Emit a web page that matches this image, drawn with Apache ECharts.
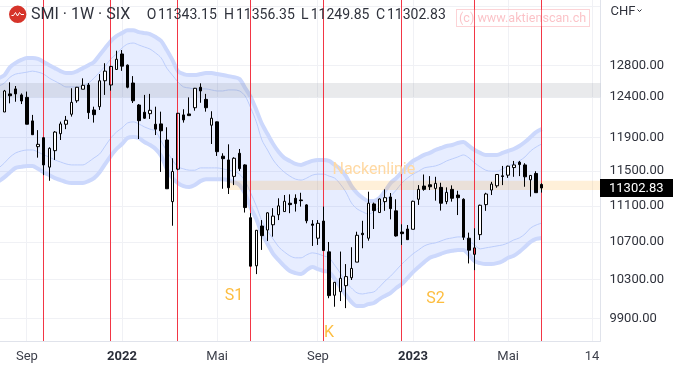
<!DOCTYPE html>
<html>
<head>
<meta charset="utf-8">
<script src="https://cdn.jsdelivr.net/npm/echarts@6/dist/echarts.min.js"></script>
<style>html,body{margin:0;padding:0;background:#fff}#c{width:673px;height:369px}</style>
</head>
<body>
<div id="c"></div>
<script>
const firstWeek = '2021-08-02';
const weekCount = 108;
const opens = [12211,12438,12501,12425,12394,12101,11788,11896,11545,11740,11944,12060,12183,12351,12497,12551,12236,12277,12605,12551,12751,12953,12807,12576,12298,12208,12190,12060,12064,11868,11147,11521,12175,12187,12264,12522,12369,12048,12089,11674,11630,11437,11709,11571,10966,10443,10874,10830,10888,10999,11035,11129,11185,11166,11110,10896,10740,10929,10592,10135,10172,10234,10317,10482,10794,10740,11121,11024,11147,11200,11043,10808,10841,10838,11174,11325,11340,11298,11310,11147,11287,11222,11174,10740,10565,10779,11113,11279,11328,11443,11451,11540,11603,11571,11397,11471,11343.15];
const closes = [12475,12414,12438,12348,12060,11932,11816,11571,11768,11964,12064,12109,12331,12522,12547,12203,12178,12605,12729,12790,12884,12794,12522,12351,12104,12134,12232,12000,11980,11294,11494,12195,12113,12166,12509,12475,12264,12134,11728,11645,11306,11650,11528,11080,10439,10827,10768,11021,10984,11099,11151,11113,11125,11158,10932,10882,10904,10606,10131,10269,10311,10329,10415,10772,10779,11129,11046,11177,11192,11068,10765,10790,10724,11151,11287,11287,11317,11356,11129,11253,11185,11192,10751,10610,10635,11106,11234,11348,11459,11436,11556,11571,11575,11432,11448,11249,11302.83];
const lows = [12211,12319,12339,12310,12060,11932,11657,11451,11386,11630,11868,12000,12154,12326,12497,12125,12080,12236,12425,12479,12751,12733,12509,12323,11880,12125,12125,11928,11489,11294,10877,11509,12080,12166,12227,12326,12215,11820,11677,11294,11234,11336,11501,11024,10439,10355,10613,10710,10757,10940,11035,11017,11035,11091,10904,10656,10667,10606,10104,10017,10075,10003,10293,10482,10631,10713,10841,11024,11043,10948,10757,10667,10724,10838,11110,11271,11279,11158,11046,11118,11147,10996,10721,10468,10397,10721,11043,11222,11306,11336,11420,11432,11440,11317,11204,11249,11249.85];
const highs = [12488,12585,12538,12444,12467,12175,11988,11896,11780,11976,12092,12162,12509,12526,12636,12576,12277,12691,12832,12798,12996,13005,12816,12665,12310,12425,12438,12277,12215,12023,11650,12199,12245,12394,12513,12572,12438,12220,12092,11709,11816,11662,11760,11579,11017,10830,10940,11028,11073,11185,11222,11230,11230,11248,11118,10940,10940,11091,10699,10272,10595,10461,10642,10811,10932,11260,11136,11183,11287,11245,11174,10893,10885,11158,11336,11459,11440,11432,11363,11310,11333,11271,11185,10801,10849,11113,11248,11374,11463,11559,11563,11618,11618,11591,11451,11497,11356.35];
const upperOuter = [12639,12678,12781,12836,12875,12901,12901,12888,12849,12807,12768,12729,12704,12704,12729,12768,12807,12849,12940,13032,13125,13191,13231,13271,13271,13244,13231,13218,13178,13125,13005,12875,12729,12691,12678,12678,12691,12704,12704,12691,12678,12665,12652,12627,12513,12398,12236,12064,11940,11820,11724,11654,11618,11583,11571,11595,11618,11630,11630,11618,11571,11525,11440,11325,11245,11189,11155,11155,11189,11268,11360,11417,11486,11559,11618,11654,11689,11713,11748,11772,11796,11808,11832,11844,11796,11748,11713,11689,11689,11689,11713,11736,11760,11796,11844,11904,11964,12000];
const upperInner = [12538,12576,12652,12691,12704,12716,12729,12716,12691,12639,12601,12563,12526,12526,12526,12538,12576,12639,12716,12794,12888,12953,13032,13085,13098,13072,13045,13018,12966,12901,12768,12678,12589,12526,12513,12501,12501,12501,12488,12475,12475,12488,12488,12475,12411,12261,12089,11868,11748,11630,11548,11486,11440,11405,11394,11417,11451,11463,11463,11440,11417,11348,11256,11132,11065,11032,11007,11032,11088,11166,11211,11279,11360,11417,11463,11497,11536,11548,11559,11583,11618,11642,11665,11689,11654,11595,11548,11509,11497,11497,11525,11559,11583,11618,11665,11736,11784,11820];
const lowerInner = [11536,11595,11665,11713,11736,11748,11748,11724,11689,11665,11630,11606,11583,11571,11571,11571,11606,11654,11701,11796,11892,11964,12015,12076,12089,12064,12027,12000,11976,11856,11736,11630,11548,11525,11509,11509,11536,11536,11536,11536,11525,11509,11497,11463,11382,11245,11099,10929,10819,10732,10645,10592,10549,10528,10528,10560,10581,10571,10549,10528,10450,10366,10272,10210,10159,10148,10159,10169,10220,10282,10334,10397,10461,10517,10571,10613,10656,10678,10689,10710,10732,10743,10754,10754,10710,10667,10624,10635,10645,10656,10667,10689,10721,10743,10786,10852,10885,10907];
const lowerOuter = [11382,11428,11486,11536,11548,11559,11559,11525,11486,11451,11417,11394,11371,11360,11360,11360,11382,11417,11486,11583,11677,11760,11820,11892,11904,11892,11844,11808,11760,11677,11525,11417,11360,11325,11314,11337,11382,11405,11405,11405,11405,11394,11371,11337,11234,11076,10951,10786,10678,10571,10503,10439,10387,10366,10355,10397,10429,10408,10387,10376,10303,10220,10138,10065,10024,10024,10044,10055,10095,10128,10159,10210,10251,10314,10376,10429,10482,10528,10549,10571,10592,10603,10613,10613,10560,10492,10471,10461,10461,10471,10492,10528,10549,10592,10645,10699,10732,10743];
const priceTicks = [12800,12400,11900,11500,11100,10700,10300,9900];
const extraGridPrices = [13600];
const tickWeeks = ['2021-09-06','2022-01-03','2022-05-02','2022-09-05','2023-01-02','2023-05-01','2023-08-14'];
const tickLabels = ['Sep','2022','Mai','Sep','2023','Mai','14'];
const redLineWeeks = ['2021-09-27','2021-12-20','2022-03-14','2022-06-13','2022-09-12','2022-12-19','2023-03-20','2023-06-12'];
const zoneStarts = ['2021-08-02','2022-05-16'];
const zoneTops = [12577,11387];
const zoneBottoms = [12395,11279];
const noteTexts = ['Nackenlinie','S1','S2','K'];
const noteWeeks = ['2022-11-14','2022-05-23','2023-01-30','2022-09-19'];
const notePrices = [11506,10126,10096,9756];
const noteColors = ['#ffd9a3','#fdbd3f','#fdbd3f','#fdbd3f'];
const ohlcLetters = ['O','H','L','C'];
const ohlcValues = ['11343.15','11356.35','11249.85','11302.83'];

const weeks = [];
const d0 = new Date(firstWeek + 'T00:00:00Z');
for (let k = 0; k < weekCount; k++) {
  weeks.push(new Date(d0.getTime() + k * 7 * 86400000).toISOString().slice(0, 10));
}
const pad = ['-', '-', '-', '-'];
const candleData = [{ value: pad }].concat(opens.map((o, k) => {
  const item = { value: [o, closes[k], lows[k], highs[k]] };
  if (closes[k] > o && redLineWeeks.indexOf(weeks[k + 1]) >= 0) item.itemStyle = { color: 'rgba(255,255,255,0)' };
  return item;
}));

const FONT = 'Roboto, "Noto Sans", sans-serif';
const chart = echarts.init(document.getElementById('c'), null, { renderer: 'canvas' });
const gridM = (v) => ({ yAxis: v });
const zoneFills = ['rgba(120,123,134,0.16)', 'rgba(255,152,0,0.15)'];

function lineSeries(values, width, color, z) {
  return { type: 'line', data: values, symbol: 'none', smooth: 0.3, silent: true, z: z,
    lineStyle: { width: width, color: color, cap: 'butt', join: 'round' }, animation: false };
}
function verticals(weekList, color, z) {
  const rows = weekList.map((w) => [weeks.indexOf(w), priceTicks[0]]);
  return {
    type: 'custom', data: rows, silent: true, z: z, encode: { x: 0, y: 1 },
    renderItem: (params, api) => {
      const sys = params.coordSys;
      const px = Math.floor(api.coord(rows[params.dataIndex])[0] + 0.02) + 0.5;
      return { type: 'line', shape: { x1: px, y1: sys.y, x2: px, y2: sys.y + sys.height }, style: { stroke: color, lineWidth: 1 } };
    }
  };
}

const fillData = upperOuter.map((u, k) => [k, u, lowerOuter[k]]);
const zoneData = zoneStarts.map((w, k) => [weeks.indexOf(w), zoneTops[k], zoneBottoms[k], k]);

const option = {
  animation: false,
  backgroundColor: '#fff',
  grid: { left: -3.9, top: 0, width: 604.4, height: 341, containLabel: false, outerBoundsMode: 'none' },
  xAxis: {
    type: 'category', data: weeks, boundaryGap: true,
    axisLine: { show: true, lineStyle: { color: '#e0e3eb', width: 1 } },
    axisTick: { show: false }, splitLine: { show: false },
    axisLabel: {
      margin: 9, color: '#3c3f4a', fontFamily: FONT, fontSize: 13, hideOverlap: false,
      interval: (idx, val) => tickWeeks.indexOf(val) >= 0,
      formatter: (val) => {
        const t = tickLabels[tickWeeks.indexOf(val)] || '';
        return /^\d{4}$/.test(t) ? '{b|' + t + '}' : t;
      },
      rich: { b: { fontWeight: 'bold', fontFamily: FONT, fontSize: 13, color: '#2a2e39' } }
    }
  },
  yAxis: {
    type: 'log', logBase: 10, min: 9674, max: 13684, position: 'right', scale: true,
    axisLine: { show: true, lineStyle: { color: '#e0e3eb', width: 1 } },
    axisTick: { show: false }, splitLine: { show: false }, minorTick: { show: false }, minorSplitLine: { show: false },
    axisLabel: {
      show: true, margin: 9, color: '#2f323c', fontFamily: FONT, fontSize: 13, padding: [3, 0, 0, 0],
      customValues: priceTicks, formatter: (v) => Number(v).toFixed(2)
    }
  },
  series: [
    { // horizontal grid lines
      type: 'line', data: [], silent: true, z: 0,
      markLine: {
        z: 0, silent: true, symbol: 'none', animation: false, label: { show: false },
        lineStyle: { color: '#f0f1f5', width: 1, type: 'solid' },
        data: priceTicks.concat(extraGridPrices).map(gridM)
      }
    },
    verticals(tickWeeks, '#f0f1f5', 0),
    { // band fill
      type: 'custom', data: fillData, silent: true, z: 1,
      encode: { x: 0, y: 1 },
      renderItem: (params, api) => {
        if (params.dataIndex !== 0) return null;
        const up = fillData.map((r) => api.coord([r[0], r[1]]));
        const lo = fillData.map((r) => api.coord([r[0], r[2]])).reverse();
        return { type: 'polygon', shape: { points: up.concat(lo) }, style: { fill: 'rgba(41,98,255,0.115)', stroke: null } };
      }
    },
    lineSeries(upperOuter, 4, '#ccd8fc', 2),
    lineSeries(lowerOuter, 4, '#ccd8fc', 2),
    lineSeries(upperInner, 1, '#bccdfb', 2),
    lineSeries(lowerInner, 1, '#bccdfb', 2),
    { // price zones
      type: 'custom', data: zoneData, silent: true, z: 3, encode: { x: 0, y: 1 },
      renderItem: (params, api) => {
        const sys = params.coordSys;
        const r = zoneData[params.dataIndex];
        const a = api.coord([r[0], r[1]]);
        const b = api.coord([r[0], r[2]]);
        const x0 = r[3] === 0 ? 0 : a[0];
        return { type: 'rect', shape: { x: x0, y: a[1], width: sys.x + sys.width - x0, height: b[1] - a[1] }, style: { fill: zoneFills[r[3]] } };
      }
    },
    verticals(redLineWeeks, '#f23645', 4),
    {
      type: 'candlestick', data: candleData, barWidth: 3, silent: true, z: 5,
      itemStyle: { color: '#fff', color0: '#000', borderColor: '#000', borderColor0: '#000', borderWidth: 1 }
    },
    { // annotations
      type: 'line', data: [], silent: true, z: 6,
      markPoint: {
        z: 6, silent: true, animation: false, symbol: 'circle', symbolSize: 0,
        data: noteTexts.map((t, k) => ({
          coord: [noteWeeks[k], notePrices[k]],
          label: { show: true, position: 'inside', formatter: t, fontFamily: FONT, fontSize: 16, color: noteColors[k] }
        }))
      }
    }
  ],
  graphic: [
    { type: 'circle', shape: { cx: 17.7, cy: 14.3, r: 8.7 }, style: { fill: '#d6342a' }, z: 20 },
    { type: 'polyline', shape: { points: [[11.5, 15.5], [13.5, 15.5], [15.5, 12.5], [17.5, 16], [19.5, 12.5], [21, 14.5], [24, 14.5]] }, style: { stroke: '#fff', lineWidth: 1, fill: null }, z: 21 },
    { type: 'text', x: 31, y: 14.5, z: 20, style: { text: 'SMI · 1W · SIX', fontFamily: FONT, fontSize: 16, fill: '#2f323c', textVerticalAlign: 'middle' } },
    ...ohlcLetters.map((l, k) => ({ type: 'text', x: [146.7, 224, 301, 376][k], y: 15.5, z: 20, style: { text: l, fontFamily: FONT, fontSize: 14, fill: '#2f323c', textVerticalAlign: 'middle' } })),
    ...ohlcValues.map((v, k) => ({ type: 'text', x: [158, 236, 310.7, 387][k], y: 15.5, z: 20, style: { text: v, fontFamily: FONT, fontSize: 14, fill: '#2f323c', textVerticalAlign: 'middle' } })),
    { type: 'rect', shape: { x: 456.5, y: 9.5, width: 133, height: 17 }, style: { fill: 'rgba(255,255,255,0.2)', stroke: 'rgba(242,54,69,0.22)', lineWidth: 1 }, z: 20 },
    { type: 'text', x: 459, y: 18.5, z: 21, style: { text: '(c) www.aktienscan.ch', fontFamily: FONT, fontSize: 12.6, fill: 'rgba(242,54,69,0.3)', textVerticalAlign: 'middle' } },
    { type: 'text', x: 610.5, y: 12, z: 20, style: { text: 'CHF', fontFamily: FONT, fontSize: 13, fill: '#2f323c', textVerticalAlign: 'middle' } },
    { type: 'polyline', shape: { points: [[637.5, 9.5], [639.5, 11.5], [641.5, 9.5]] }, style: { stroke: '#2f323c', lineWidth: 1, fill: null }, z: 20 },
    { type: 'rect', shape: { x: 600, y: 179, width: 73, height: 18 }, style: { fill: '#000' }, z: 20 },
    { type: 'text', x: 609, y: 188.5, z: 21, style: { text: ohlcValues[3], fontFamily: FONT, fontSize: 13, fill: '#fff', textVerticalAlign: 'middle' } }
  ]
};
chart.setOption(option);
</script>
</body>
</html>
